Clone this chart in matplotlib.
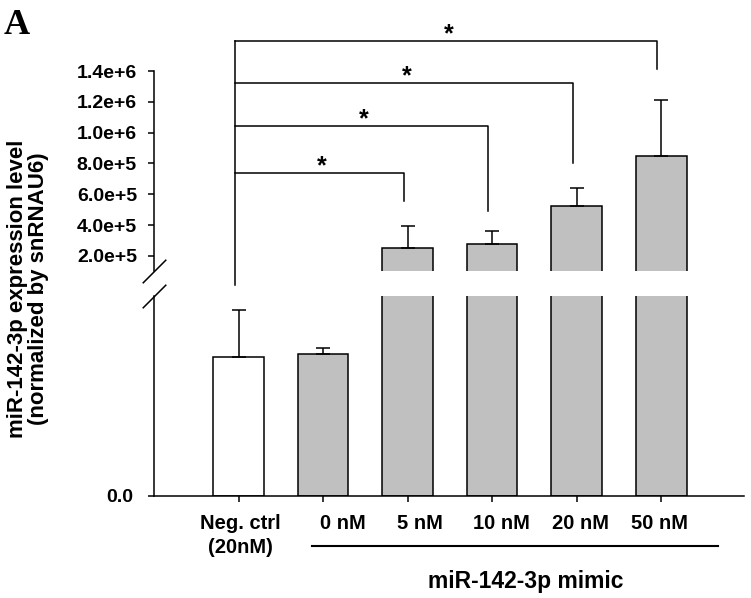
import matplotlib
matplotlib.use('Agg')
import matplotlib.pyplot as plt
import matplotlib.transforms as mtransforms
import numpy as np

plt.rcParams['font.family'] = ['Liberation Sans', 'DejaVu Sans']
plt.rcParams['font.weight'] = 'bold'

groups = ['Neg. ctrl\n(20nM)', '0 nM', '5 nM', '10 nM', '20 nM', '50 nM']
# first two bars live on the lower (unlabelled) segment of the broken axis
values = [1.00, 1.02, 2.52e5, 2.78e5, 5.24e5, 8.49e5]
errors = [0.34, 0.044, 1.43e5, 0.84e5, 1.17e5, 3.63e5]
colors = ['white', '#c0c0c0', '#c0c0c0', '#c0c0c0', '#c0c0c0', '#c0c0c0']

upper_ticks = [2e5, 4e5, 6e5, 8e5, 1.0e6, 1.2e6, 1.4e6]
upper_labels = ['2.0e+5', '4.0e+5', '6.0e+5', '8.0e+5', '1.0e+6', '1.2e+6', '1.4e+6']

# significance brackets: Neg. ctrl vs each mimic dose
sig_targets = [2, 3, 4, 5]
sig_levels = [7.38e5, 1.043e6, 1.32e6, 1.595e6]
sig_drops = [5.56e5, 4.92e5, 8.03e5, 1.416e6]
neg_line_bottom = 1e4

fig = plt.figure(figsize=(7.51, 5.98), dpi=100)
ax_hi = fig.add_axes([0.20506, 0.54682, 0.78562, 0.41973])
ax_lo = fig.add_axes([0.20506, 0.17057, 0.78562, 0.33445])

x = np.arange(len(groups))
for ax in (ax_hi, ax_lo):
    ax.bar(x, values, width=0.6, color=colors, edgecolor='black', linewidth=1.1)
    ax.errorbar(x, values, yerr=[np.zeros(len(errors)), errors], fmt='none',
                ecolor='black', elinewidth=1.1, capsize=4.7, capthick=1.1)
    ax.set_xlim(-1.0, 5.98)
    ax.spines['top'].set_visible(False)
    ax.spines['right'].set_visible(False)
    for s in ax.spines.values():
        s.set_linewidth(1.1)

ax_hi.set_ylim(1.025e5, 1.731e6)
ax_lo.set_ylim(0, 1.44)

ax_hi.spines['bottom'].set_visible(False)
ax_hi.spines['left'].set_bounds(1.025e5, 1.4e6)
ax_hi.tick_params(axis='x', bottom=False, labelbottom=False)
ax_hi.set_yticks(upper_ticks)
ax_hi.set_yticklabels(upper_labels)
ax_hi.tick_params(axis='y', direction='out', length=4.3, width=1.1, pad=8, labelsize=14)

ax_lo.set_yticks([0])
ax_lo.set_yticklabels(['0.0'])
ax_lo.tick_params(axis='y', direction='out', length=4.3, width=1.1, pad=11, labelsize=14)
ax_lo.set_xticks(x)
ax_lo.set_xticklabels(groups, linespacing=1.3)
ax_lo.tick_params(axis='x', direction='out', length=4.3, width=1.1, pad=9, labelsize=14.5)

# the dose labels in the original sit a little right of their ticks
shift_px = [2, 20, 12.5, 9, 3.5, -2]
for lab, dx in zip(ax_lo.get_xticklabels(), shift_px):
    lab.set_transform(lab.get_transform() +
                      mtransforms.ScaledTranslation(dx / 100, 0, fig.dpi_scale_trans))

# break marks on the y axis
kw = dict(marker=[(-1, -1), (1, 1)], markersize=17, linestyle='none',
          color='k', mec='k', mew=1.1, clip_on=False)
ax_hi.plot([0], [0], transform=ax_hi.transAxes, **kw)
ax_lo.plot([0], [1], transform=ax_lo.transAxes, **kw)

# brackets
off = -0.045
ax_hi.plot([off, off], [neg_line_bottom, max(sig_levels)], color='k', lw=1.1, clip_on=False)
for t, lev, drop in zip(sig_targets, sig_levels, sig_drops):
    ax_hi.plot([off, t + off, t + off], [lev, lev, drop], color='k', lw=1.1, clip_on=False)
    ax_hi.text((off + t + off) / 2 + 0.03, lev, '*', ha='center', va='baseline',
               fontsize=18, clip_on=False)

# group label under the mimic doses
fig.add_artist(plt.Line2D([312 / 751, 718 / 751], [1 - 546 / 598] * 2, color='black', lw=1.5))
fig.text(526 / 751, 1 - 588 / 598, 'miR-142-3p mimic', ha='center', va='baseline', fontsize=16.5)

fig.text(28 / 751, 1 - 289 / 598, 'miR-142-3p expression level\n(normalized by snRNAU6)',
         rotation=90, ha='center', va='center', fontsize=16, linespacing=1.05,
         multialignment='center')

fig.text(4 / 751, 1 - 34 / 598, 'A', ha='left', va='baseline', fontsize=26,
         family='Liberation Serif', weight='bold')

fig.savefig('out.png', dpi=100)
